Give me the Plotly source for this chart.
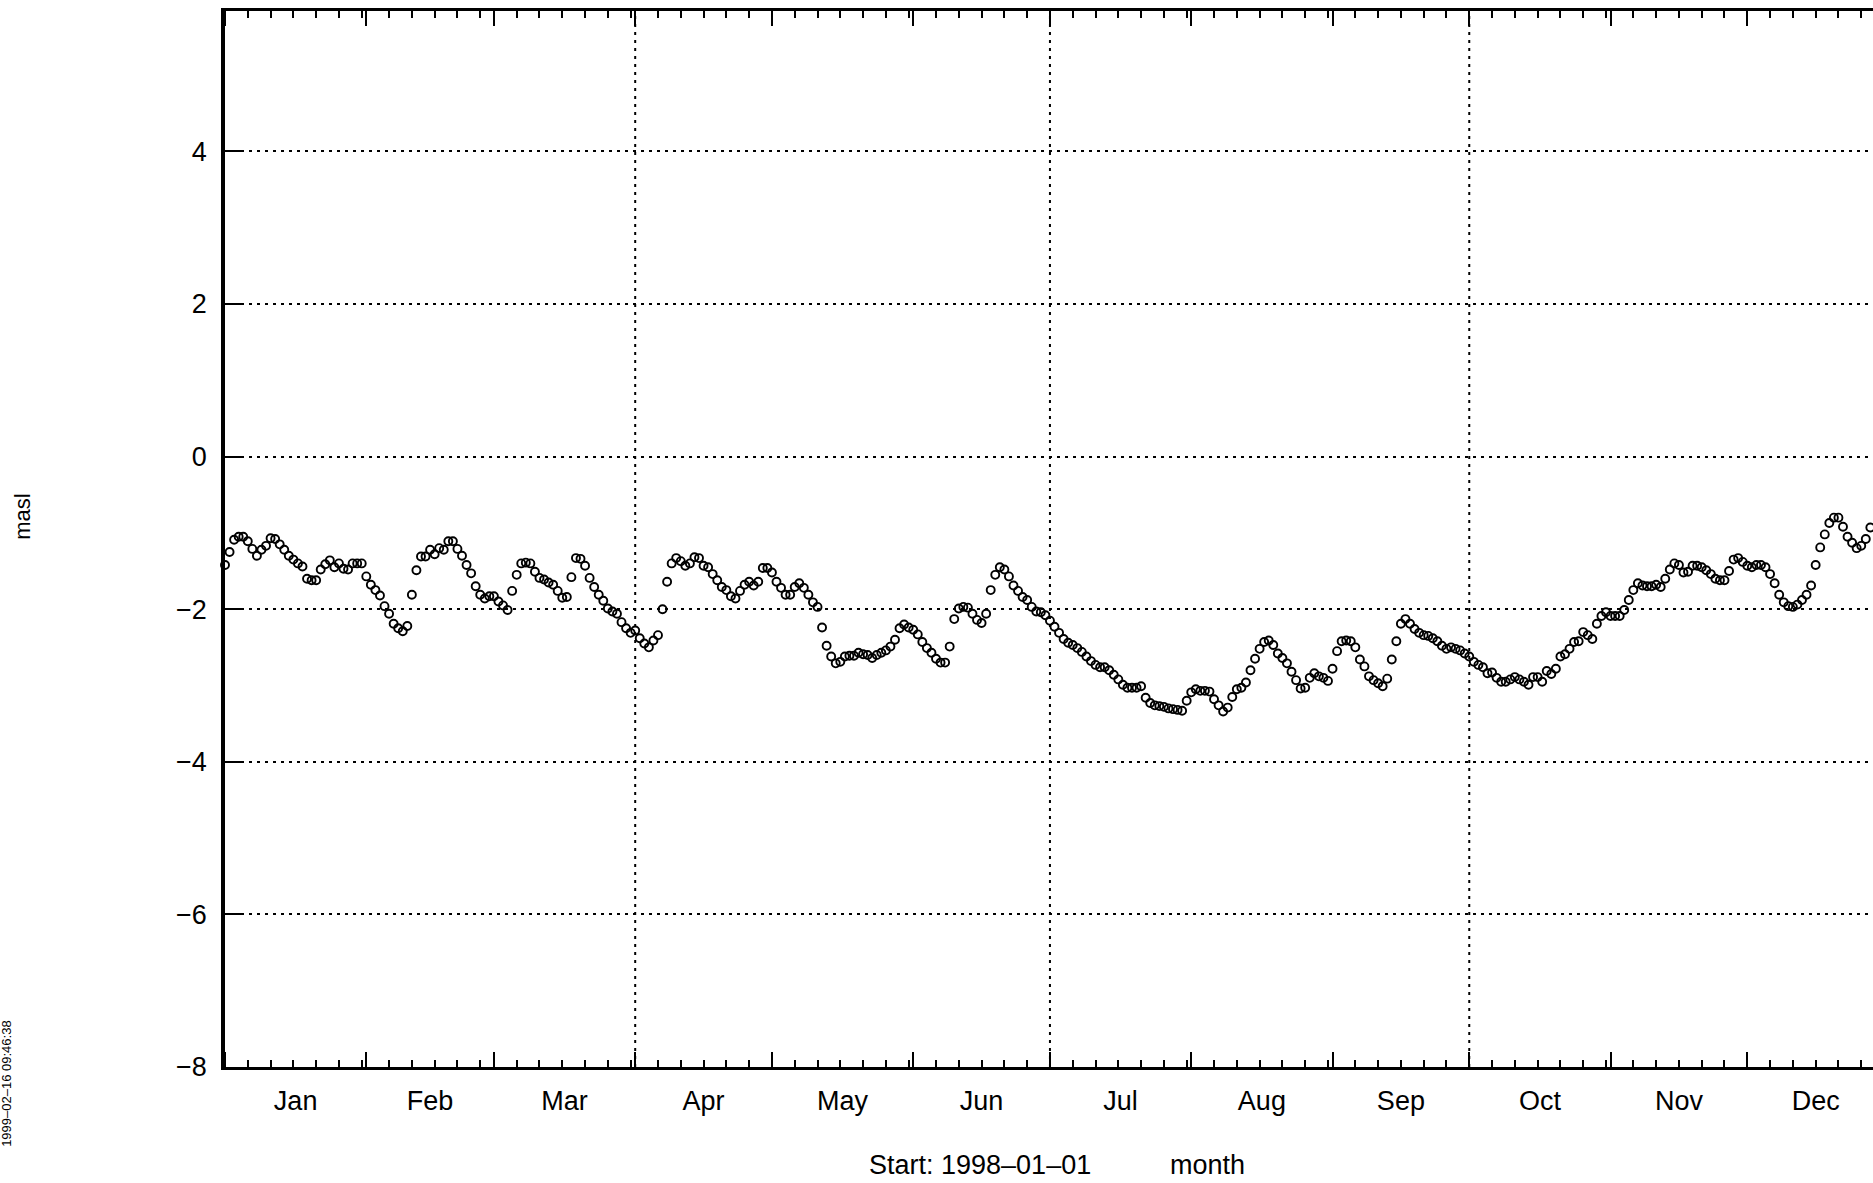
import pandas as pd
import plotly.graph_objects as go

# ---- data (daily water level, masl), starting 1998-01-01 ----
START_DATE = "1998-01-01"
LEVELS = [
    -1.42, -1.25, -1.09, -1.05, -1.05, -1.11, -1.21, -1.30, -1.22, -1.17,
    -1.07, -1.08, -1.15, -1.22, -1.30, -1.35, -1.40, -1.44, -1.60, -1.62,
    -1.62, -1.48, -1.41, -1.36, -1.45, -1.40, -1.47, -1.48, -1.40, -1.40,
    -1.40, -1.57, -1.68, -1.75, -1.82, -1.96, -2.06, -2.19, -2.25, -2.29,
    -2.22, -1.81, -1.49, -1.31, -1.31, -1.22, -1.28, -1.20, -1.22, -1.11,
    -1.11, -1.21, -1.30, -1.42, -1.53, -1.70, -1.81, -1.86, -1.83, -1.83,
    -1.90, -1.95, -2.01, -1.76, -1.55, -1.40, -1.39, -1.40, -1.51, -1.59,
    -1.61, -1.65, -1.68, -1.76, -1.85, -1.84, -1.58, -1.33, -1.34, -1.43,
    -1.59, -1.71, -1.81, -1.89, -1.99, -2.03, -2.06, -2.17, -2.25, -2.31,
    -2.28, -2.38, -2.45, -2.50, -2.41, -2.34, -2.00, -1.64, -1.40, -1.33,
    -1.37, -1.43, -1.40, -1.32, -1.33, -1.43, -1.45, -1.54, -1.62, -1.71,
    -1.75, -1.83, -1.86, -1.76, -1.68, -1.64, -1.69, -1.64, -1.46, -1.46,
    -1.52, -1.64, -1.72, -1.81, -1.81, -1.71, -1.66, -1.72, -1.81, -1.91,
    -1.97, -2.24, -2.48, -2.62, -2.71, -2.69, -2.62, -2.61, -2.61, -2.57,
    -2.59, -2.60, -2.64, -2.60, -2.57, -2.54, -2.49, -2.40, -2.25, -2.20,
    -2.24, -2.27, -2.33, -2.43, -2.51, -2.57, -2.65, -2.70, -2.70, -2.49,
    -2.13, -1.99, -1.97, -1.98, -2.06, -2.14, -2.18, -2.06, -1.75, -1.55,
    -1.45, -1.48, -1.57, -1.69, -1.76, -1.84, -1.88, -1.97, -2.03, -2.04,
    -2.08, -2.15, -2.23, -2.31, -2.39, -2.44, -2.47, -2.51, -2.56, -2.62,
    -2.68, -2.73, -2.76, -2.76, -2.80, -2.86, -2.92, -2.99, -3.03, -3.03,
    -3.03, -3.01, -3.16, -3.23, -3.26, -3.27, -3.28, -3.30, -3.31, -3.32,
    -3.33, -3.20, -3.09, -3.05, -3.07, -3.07, -3.08, -3.18, -3.26, -3.34,
    -3.29, -3.15, -3.05, -3.03, -2.96, -2.80, -2.65, -2.52, -2.43, -2.41,
    -2.47, -2.58, -2.64, -2.71, -2.82, -2.93, -3.04, -3.03, -2.90, -2.84,
    -2.88, -2.90, -2.94, -2.78, -2.55, -2.42, -2.41, -2.42, -2.50, -2.66,
    -2.75, -2.88, -2.93, -2.97, -3.01, -2.91, -2.66, -2.42, -2.19, -2.13,
    -2.19, -2.26, -2.31, -2.34, -2.35, -2.38, -2.42, -2.48, -2.52, -2.50,
    -2.52, -2.54, -2.58, -2.62, -2.69, -2.73, -2.76, -2.84, -2.83, -2.90,
    -2.95, -2.95, -2.92, -2.89, -2.92, -2.95, -2.99, -2.89, -2.89, -2.95,
    -2.81, -2.85, -2.78, -2.62, -2.59, -2.52, -2.43, -2.42, -2.30, -2.34,
    -2.39, -2.19, -2.09, -2.04, -2.09, -2.09, -2.09, -2.01, -1.88, -1.75,
    -1.66, -1.69, -1.70, -1.70, -1.68, -1.71, -1.60, -1.48, -1.40, -1.42,
    -1.52, -1.51, -1.43, -1.43, -1.45, -1.49, -1.54, -1.60, -1.62, -1.62,
    -1.50, -1.35, -1.33, -1.38, -1.43, -1.45, -1.42, -1.42, -1.45, -1.54,
    -1.66, -1.81, -1.91, -1.96, -1.97, -1.94, -1.88, -1.81, -1.69, -1.42,
    -1.19, -1.02, -0.87, -0.80, -0.80, -0.92, -1.05, -1.13, -1.20, -1.17,
    -1.08, -0.93,
]

X_RANGE = ["1998-01-01", "1998-12-28 14:00"]
Y_RANGE = [-8, 5.84]
Y_TICK_STEP = 2
MINOR_TICK_DAYS = [6, 11, 16, 21, 26, 31]
QUARTER_STARTS = ["1998-04-01", "1998-07-01", "1998-10-01"]
Y_LABEL = "masl"
X_LABEL_START = "Start: 1998\u201301\u201301"
X_LABEL_UNIT = "month"
STAMP = "1999\u201302\u201316 09:46:38"

dates = pd.date_range(START_DATE, periods=len(LEVELS), freq="D")
minor_ticks = [d for d in pd.date_range("1998-01-01", "1998-12-31", freq="D")
               if d.day in MINOR_TICK_DAYS]

FONT = "Liberation Sans, Arial, Helvetica, sans-serif"
DOT = "3px,5px"

fig = go.Figure()
fig.add_trace(go.Scatter(
    x=dates, y=LEVELS, mode="markers",
    marker=dict(symbol="circle-open", size=8, color="black",
                line=dict(width=1.9, color="black")),
    cliponaxis=False, hoverinfo="x+y",
))

for q in QUARTER_STARTS:
    fig.add_shape(type="line", xref="x", yref="paper", x0=q, x1=q, y0=0, y1=1,
                  line=dict(color="black", width=2, dash=DOT), layer="below")

fig.update_layout(
    width=1873, height=1183,
    margin=dict(l=225, r=0, t=11, b=116),
    paper_bgcolor="white", plot_bgcolor="white",
    showlegend=False,
    font=dict(family=FONT, size=27, color="black"),
    xaxis=dict(
        type="date", range=X_RANGE, tick0="1998-01-01", dtick="M1",
        tickformat="%b", ticklabelmode="period",
        ticks="inside", ticklen=15, tickwidth=2, tickcolor="black",
        showline=True, linewidth=3, linecolor="black", mirror="ticks",
        showgrid=False, zeroline=False,
        tickfont=dict(size=27),
        ticklabelstandoff=8,
        minor=dict(tickmode="array", tickvals=minor_ticks, ticks="inside",
                   ticklen=7, tickwidth=2, tickcolor="black", showgrid=False),
    ),
    yaxis=dict(
        range=Y_RANGE, tick0=0, dtick=Y_TICK_STEP,
        ticks="inside", ticklen=17, tickwidth=2, tickcolor="black",
        showline=True, linewidth=3.5, linecolor="black", mirror=False,
        showgrid=True, gridcolor="black", gridwidth=2, griddash=DOT,
        zeroline=False, tickfont=dict(size=27),
        ticklabelstandoff=9,
    ),
    annotations=[
        dict(text=Y_LABEL, xref="paper", yref="paper", x=-0.1226, y=0.521,
             textangle=-90, showarrow=False, font=dict(size=22),
             xanchor="center", yanchor="middle"),
        dict(text=X_LABEL_START, xref="paper", yref="paper", x=0.4581, y=-0.0928,
             showarrow=False, font=dict(size=27), xanchor="center", yanchor="middle"),
        dict(text=X_LABEL_UNIT, xref="paper", yref="paper", x=0.5959, y=-0.0928,
             showarrow=False, font=dict(size=27), xanchor="center", yanchor="middle"),
        dict(text=STAMP, xref="paper", yref="paper", x=-0.1330, y=-0.0152,
             textangle=-90, showarrow=False, font=dict(size=13),
             xanchor="center", yanchor="middle"),
    ],
)

fig.write_html("out.html")
